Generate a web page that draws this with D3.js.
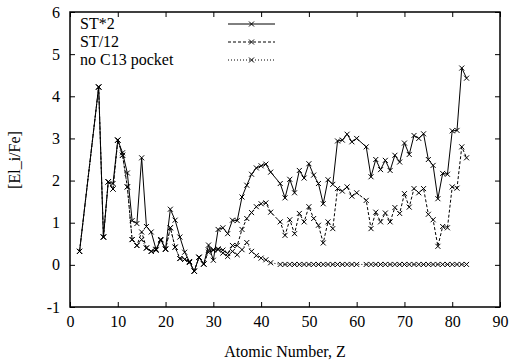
<!DOCTYPE html>
<html><head><meta charset="utf-8">
<script src="https://cdn.jsdelivr.net/npm/d3@7"></script>
<style>html,body{margin:0;padding:0;background:#fff;} svg{display:block;}</style>
</head><body>
<svg id="chart" width="512" height="362"></svg>
<script>
const atomicZ = [2,6,7,8,9,10,11,12,13,14,15,16,17,18,19,20,21,22,23,24,25,26,27,28,29,30,31,32,33,34,35,36,37,38,39,40,41,42,
  44,45,46,47,48,49,50,51,52,53,54,55,56,57,58,59,60,
  62,63,64,65,66,67,68,69,70,71,72,73,74,75,76,77,78,79,80,81,82,83];
const stTimes2 = [0.32,4.22,0.66,1.97,1.93,2.96,2.66,2.18,1.05,0.98,2.54,0.91,0.78,0.37,0.6,0.38,1.32,1.06,0.66,0.3,0.08,-0.15,0.18,0.02,0.47,0.11,0.84,0.88,0.74,1.06,1.05,1.61,1.89,2.15,2.3,2.35,2.39,2.2,
  1.93,1.59,2.03,1.71,2.24,2.06,2.4,2.13,1.93,1.45,2.02,1.91,2.94,2.96,3.1,2.92,3.0,
  2.8,2.09,2.5,2.26,2.48,2.24,2.6,2.44,2.89,2.62,3.07,3.0,3.11,2.5,2.36,1.57,2.17,2.15,3.18,3.19,4.67,4.43];
const stOver12 = [0.32,4.22,0.66,1.97,1.8,2.96,2.6,1.85,0.6,0.46,0.78,0.4,0.32,0.35,0.6,0.37,0.88,0.42,0.15,0.13,0.06,-0.15,0.18,0.02,0.35,0.36,0.38,0.35,0.27,0.46,0.46,0.84,1.1,1.24,1.38,1.45,1.47,1.25,
  1.02,0.7,1.07,0.74,1.22,1.02,1.38,1.1,0.94,0.52,1.02,0.86,1.81,1.75,1.85,1.63,1.71,
  1.53,0.86,1.25,1.02,1.23,1.02,1.36,1.22,1.69,1.37,1.81,1.71,1.81,1.2,1.07,0.44,0.91,0.88,1.85,1.82,2.8,2.54];
const noC13 = [0.32,4.22,0.66,1.97,1.8,2.96,2.6,1.85,0.6,0.46,0.6,0.4,0.32,0.35,0.58,0.37,0.88,0.42,0.15,0.13,0.06,-0.15,0.18,0.02,0.3,0.35,0.36,0.28,0.2,0.32,0.24,0.36,0.53,0.32,0.22,0.16,0.12,0.05,
  0.01,0.01,0.01,0.01,0.01,0.01,0.01,0.01,0.01,0.01,0.01,0.01,0.01,0.01,0.01,0.01,0.01,
  0.01,0.01,0.01,0.01,0.01,0.01,0.01,0.01,0.01,0.01,0.01,0.01,0.01,0.01,0.01,0.01,0.01,0.01,0.01,0.01,0.01,0.01];
const seriesNames = ["ST*2","ST/12","no C13 pocket"];
const xTicks = [0,10,20,30,40,50,60,70,80,90];
const yTicks = [-1,0,1,2,3,4,5,6];

const svg = d3.select("#chart");
const L=70, R=500, T=12, B=307;
const x = d3.scaleLinear().domain([0,90]).range([L,R]);
const y = d3.scaleLinear().domain([-1,6]).range([B,T]);
const font = "Liberation Serif, DejaVu Serif, serif";
const fmt = d => String(d);

const axB = d3.axisBottom(x).tickValues(xTicks).tickFormat(fmt).tickSizeInner(-5).tickSizeOuter(0).tickPadding(9);
const axT = d3.axisTop(x).tickValues(xTicks).tickSizeInner(-5).tickSizeOuter(0).tickFormat("");
const axL = d3.axisLeft(y).tickValues(yTicks).tickFormat(fmt).tickSizeInner(-5).tickSizeOuter(0).tickPadding(10);
const axR = d3.axisRight(y).tickValues(yTicks).tickSizeInner(-5).tickSizeOuter(0).tickFormat("");
function style(g){ g.attr("font-family",font).attr("font-size",16);
  g.select(".domain").remove(); g.selectAll("line").attr("stroke","#000");
  g.selectAll("text").attr("fill","#000"); }
svg.append("g").attr("transform",`translate(0,${B})`).call(axB).call(style);
svg.append("g").attr("transform",`translate(0,${T})`).call(axT).call(style);
svg.append("g").attr("transform",`translate(${L},0)`).call(axL).call(style);
svg.append("g").attr("transform",`translate(${R},0)`).call(axR).call(style);
svg.append("rect").attr("x",L).attr("y",T).attr("width",R-L).attr("height",B-T)
  .attr("fill","none").attr("stroke","#000").attr("stroke-width",1.5);

const dashes = ["none","3,2","1,2"];
const allSeries = [stTimes2, stOver12, noC13];
const marker = "M-2.5,-2.5L2.5,2.5M-2.5,2.5L2.5,-2.5";
const line = d3.line().x(d=>x(d[0])).y(d=>y(d[1]));
[2,1,0].forEach(i=>{
  const pts = atomicZ.map((z,j)=>[z, allSeries[i][j]]);
  svg.append("path").attr("d",line(pts)).attr("fill","none").attr("stroke","#000")
    .attr("stroke-width",1).attr("stroke-dasharray",dashes[i]);
  svg.append("g").selectAll("path").data(pts).join("path")
    .attr("transform",d=>`translate(${x(d[0])},${y(d[1])})`)
    .attr("d",marker).attr("stroke","#000").attr("stroke-width",1).attr("fill","none");
});

const tg = svg.append("g").attr("font-family",font).attr("font-size",16);
seriesNames.forEach((n,i)=>{
  const ly = 24 + i*18;
  tg.append("text").attr("x",80).attr("y",ly+5).text(n);
  svg.append("line").attr("x1",228).attr("x2",275).attr("y1",ly).attr("y2",ly)
    .attr("stroke","#000").attr("stroke-dasharray",dashes[i]);
  svg.append("path").attr("transform",`translate(251.5,${ly})`).attr("d",marker).attr("stroke","#000");
});
tg.append("text").attr("x",285).attr("y",357).attr("text-anchor","middle").text("Atomic Number, Z");
tg.append("text").attr("transform","translate(20,160) rotate(-90)").attr("text-anchor","middle").text("[El_i/Fe]");
</script>
</body></html>
